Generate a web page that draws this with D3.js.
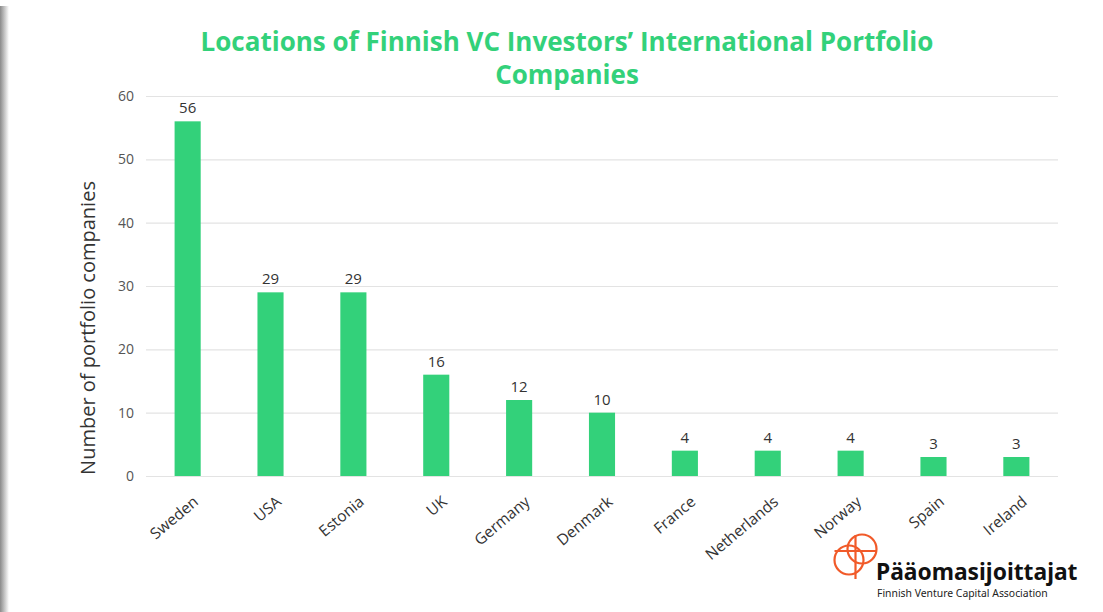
<!DOCTYPE html>
<html>
<head>
<meta charset="utf-8">
<script src="https://cdn.jsdelivr.net/npm/d3@7"></script>
<style>
  body { margin: 0; background: #fff; }
  svg { display: block; }
</style>
</head>
<body>
<svg id="chart" width="1103" height="612"></svg>
<script>
// data
const countries = ["Sweden", "USA", "Estonia", "UK", "Germany", "Denmark", "France", "Netherlands", "Norway", "Spain", "Ireland"];
const companies = [56, 29, 29, 16, 12, 10, 4, 4, 4, 3, 3];
const yTicks = [0, 10, 20, 30, 40, 50, 60];
const titleLines = ["Locations of Finnish VC Investors’ International Portfolio", "Companies"];

const GREEN = "#33d17a";
const FONT = "'Open Sans', Lato, sans-serif";

const svg = d3.select("#chart");
const width = 1103, height = 612;

// slide shadow on the left edge
const defs = svg.append("defs");
const grad = defs.append("linearGradient").attr("id", "shadow").attr("x1", 0).attr("x2", 1);
grad.append("stop").attr("offset", 0).attr("stop-color", "#8a8a8a");
grad.append("stop").attr("offset", 1).attr("stop-color", "#ffffff");
svg.append("rect").attr("x", 0).attr("y", 6).attr("width", 9).attr("height", height - 6).attr("fill", "url(#shadow)");

//dimensions
const margin = {left: 146, right: 45, top: 96, bottom: 136};
const plotW = width - margin.left - margin.right;
const plotH = height - margin.top - margin.bottom;

const x = d3.scaleBand().domain(countries).range([0, plotW]).paddingInner(0.685).paddingOuter(0.345);
const y = d3.scaleLinear().domain([0, 60]).range([plotH, 0]);

const g = svg.append("g").attr("transform", "translate(" + margin.left + "," + margin.top + ")");

// gridlines + y ticks
const yAxis = g.append("g")
    .call(d3.axisLeft(y).tickValues(yTicks).tickSize(-plotW).tickPadding(12))
yAxis.select(".domain").remove();
yAxis.selectAll(".tick line").attr("stroke", "#e3e3e3").attr("stroke-width", 1.2);
yAxis.selectAll(".tick text")
    .attr("fill", "#555")
    .style("font-family", FONT)
    .style("font-size", "14px");

// bars
g.selectAll("rect.bar").data(countries)
    .enter()
    .append("rect")
        .attr("class", "bar")
        .attr("x", d => x(d))
        .attr("y", (d, i) => y(companies[i]))
        .attr("width", x.bandwidth())
        .attr("height", (d, i) => plotH - y(companies[i]))
        .attr("fill", GREEN);

// value labels
g.selectAll("text.val").data(countries)
    .enter()
    .append("text")
        .attr("class", "val")
        .attr("x", d => x(d) + x.bandwidth() / 2)
        .attr("y", (d, i) => y(companies[i]) - 8)
        .attr("text-anchor", "middle")
        .attr("fill", "#333")
        .style("font-family", FONT)
        .style("font-size", "15px")
        .text((d, i) => companies[i]);

// x labels
g.selectAll("text.cat").data(countries)
    .enter()
    .append("text")
        .attr("class", "cat")
        .attr("transform", d => "translate(" + (x(d) + x.bandwidth() / 2 + 3) + "," + (plotH + 17) + ") rotate(-40)")
        .attr("text-anchor", "end")
        .attr("dominant-baseline", "hanging")
        .attr("fill", "#333")
        .style("font-family", FONT)
        .style("font-size", "15.5px")
        .text(d => d);

// y axis title
svg.append("text")
    .attr("transform", "translate(95,328) rotate(-90)")
    .attr("text-anchor", "middle")
    .attr("fill", "#333")
    .style("font-family", FONT)
    .style("font-size", "20px")
    .text("Number of portfolio companies");

// title
svg.selectAll("text.title").data(titleLines)
    .enter()
    .append("text")
        .attr("class", "title")
        .attr("x", 567)
        .attr("y", (d, i) => 51 + i * 33)
        .attr("text-anchor", "middle")
        .attr("fill", GREEN)
        .style("font-family", FONT)
        .style("font-weight", "700")
        .style("font-size", "26px")
        .text(d => d);

// logo
const ORANGE = "#f15a29";
const logo = svg.append("g").attr("fill", "none").attr("stroke", ORANGE).attr("stroke-width", 2.2);
logo.append("circle").attr("cx", 862).attr("cy", 549).attr("r", 14.5);
logo.append("circle").attr("cx", 849).attr("cy", 560).attr("r", 14.5);
logo.append("line").attr("x1", 855.5).attr("x2", 855.5).attr("y1", 535).attr("y2", 579);
logo.append("line").attr("x1", 834.5).attr("x2", 876.5).attr("y1", 551).attr("y2", 551);

svg.append("text")
    .attr("x", 876).attr("y", 580)
    .attr("fill", "#111")
    .style("font-family", "'Noto Sans', sans-serif")
    .style("font-weight", "700")
    .style("font-size", "22.8px")
    .text("Pääomasijoittajat");
svg.append("text")
    .attr("x", 877).attr("y", 597)
    .attr("fill", "#222")
    .style("font-family", "'Noto Sans', sans-serif")
    .style("font-size", "10.4px")
    .text("Finnish Venture Capital Association");
</script>
</body>
</html>
